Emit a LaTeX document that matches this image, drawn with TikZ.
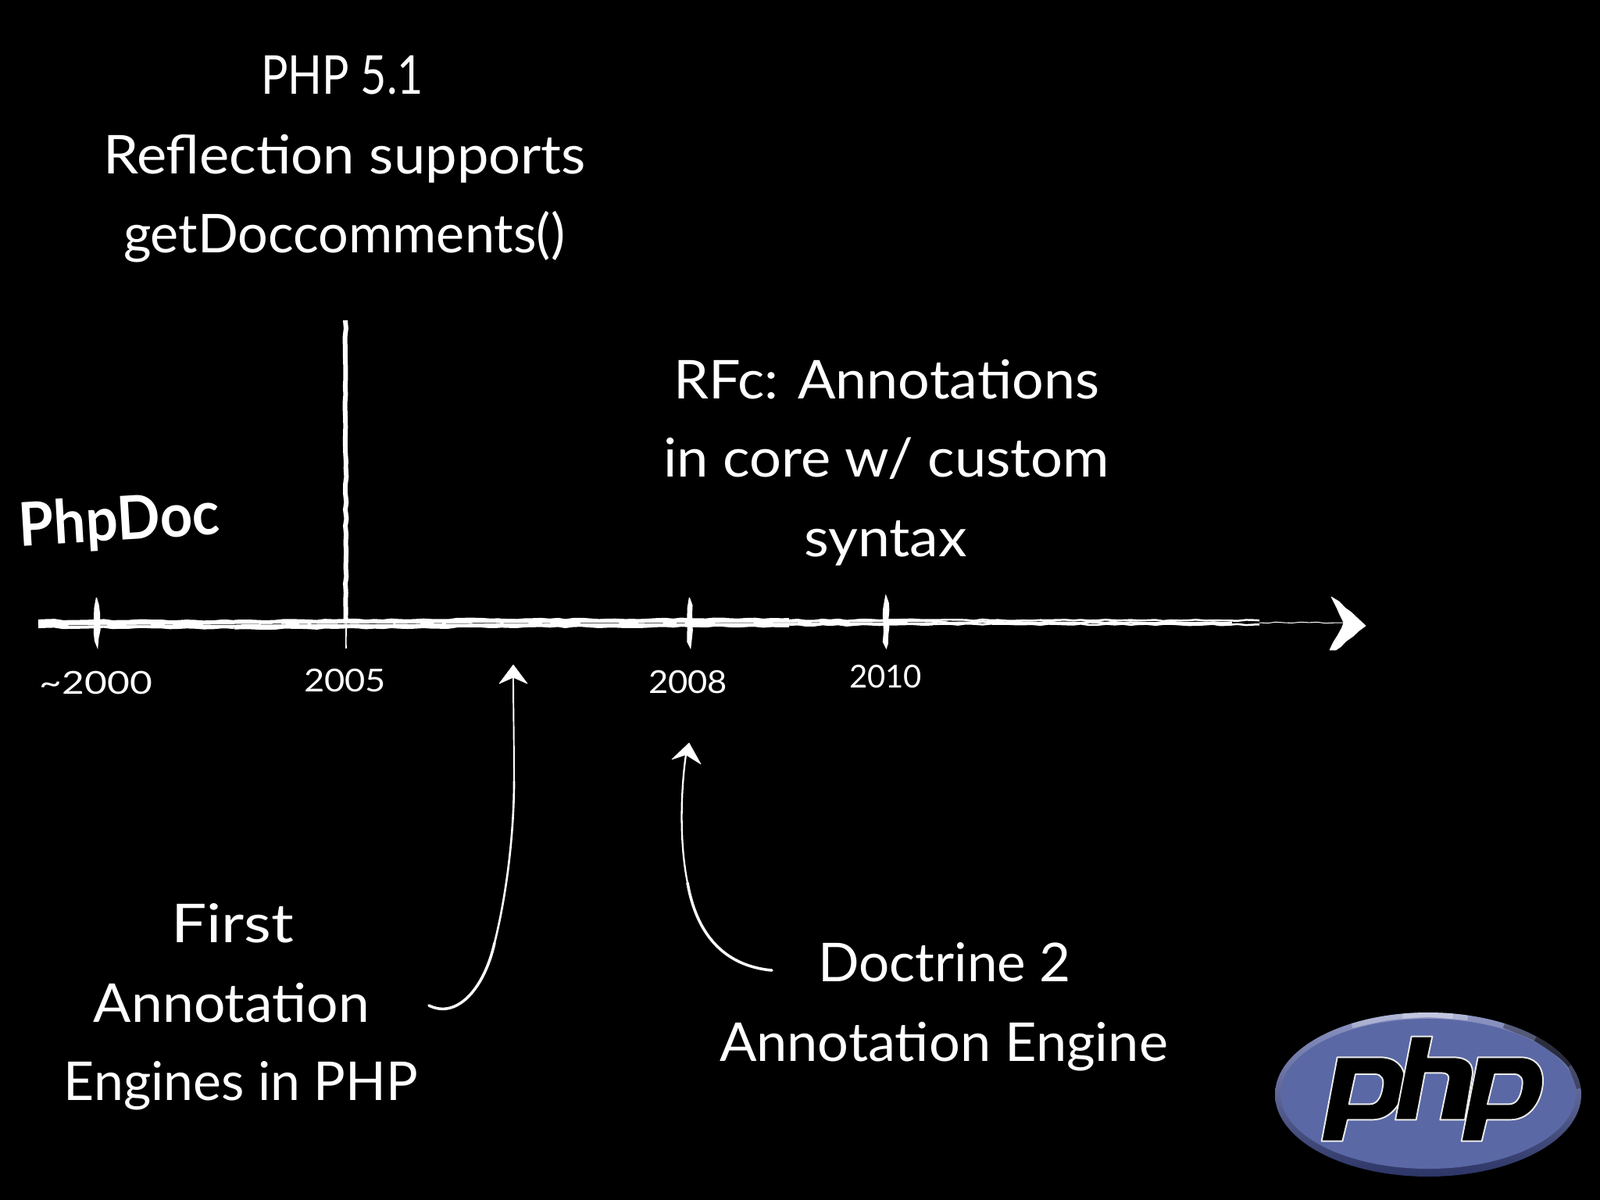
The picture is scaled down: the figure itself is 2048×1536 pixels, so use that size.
\documentclass[tikz,border=0pt]{standalone}
\usepackage{fontspec}
\usepackage{graphicx}
\setmainfont{Lato}
\usetikzlibrary{decorations.pathmorphing}
\newlength\pxu
\setlength\pxu{0.01cm}
\newcommand\fitw[2]{\resizebox{#1\pxu}{\height}{#2}}
\definecolor{logoblue}{HTML}{5A68A6}
\definecolor{logodark}{HTML}{2C3565}
\definecolor{logolight}{HTML}{8E96C4}
\tikzset{
  chalktext/.style={text=white,inner sep=0pt,outer sep=0pt,anchor=base west},
  bigtext/.style={chalktext,font=\fontsize{19.5pt}{20pt}\selectfont},
  hugetext/.style={chalktext,font=\fontsize{22pt}{24pt}\bfseries\selectfont},
  yeartext/.style={chalktext,font=\fontsize{11.5pt}{12pt}\selectfont},
  rough/.style={decorate,decoration={random steps,segment length=3pt,amplitude=.25pt}},
  strand/.style={draw=white,rough,line join=round},
  streak/.style={draw=black,line width=.12pt,dash pattern=on 9pt off 5pt on 3pt off 11pt on 14pt off 7pt},
  thincurve/.style={draw=white,line width=.55pt,line cap=round},
  fatcurve/.style={draw=white,line width=1pt,line cap=round},
  headfill/.style={fill=white,draw=white,line width=.2pt,line join=round},
  spindle/.style={fill=white,rough},
  logoletter/.style={fill=black,draw=white!92!black,line width=.55pt,even odd rule,line join=round},
}
\newcommand\ticklen[4]{%
  \coordinate (#1top) at (#2,#3);
  \coordinate (#1bot) at (#2,#4);
  \fill[spindle] (#1top) .. controls +(5,14) and +(5,-14) .. (#1bot)
     .. controls +(-5,-14) and +(-5,14) .. (#1top);
}
\begin{document}
\begin{tikzpicture}[x=0.01cm,y=-0.01cm]
\path[fill=black,use as bounding box] (0,0) rectangle (2048,1536);

% axis
\coordinate (axisL) at (49,798.5);
\coordinate (axisA) at (300,799.5);
\coordinate (axisB) at (640,797.5);
\coordinate (axisC) at (1010,797);
\coordinate (axisM) at (1194,796.5);
\coordinate (axisN) at (1612,797);
\coordinate (axisR) at (1720,797);
\path[strand,line width=3.2pt] (axisL) -- (axisA);
\path[strand,line width=3.5pt] (axisA) -- (axisB);
\path[strand,line width=3.3pt] (axisB) -- (axisC);
\path[strand,line width=2.4pt] (axisC) -- (axisM);
\path[strand,line width=.7pt] ([yshift=.8pt]axisM) -- ([yshift=.8pt]axisN);
\path[strand,line width=.9pt] (axisM) -- ([xshift=-10pt]axisN);
\path[strand,line width=.7pt] ([yshift=-.7pt]axisM) -- ([yshift=-.7pt]axisN);
\path[strand,line width=.3pt] (axisN) -- (axisR);
\path[streak] ([yshift=.2pt]axisA) -- (axisM);
\path[streak,dash phase=17pt] ([yshift=-.6pt]axisL) -- (axisB);

% vertical line and ticks
\coordinate (vlTop) at (442,410);
\coordinate (vlBot) at (443,830);
\path[strand,line width=1.7pt] (vlTop) -- ([yshift=9pt]vlBot);
\path[strand,line width=.5pt] ([yshift=9pt]vlBot) -- (vlBot);
\ticklen{tA}{124}{765}{831}
\ticklen{tB}{883}{765}{831}
\ticklen{tC}{1134}{761}{831}

% main arrow head
\coordinate (headTip) at (1748,801);
\coordinate (headUp) at (1704,764);
\coordinate (headDn) at (1702,832);
\coordinate (headIn) at (1720,797);
\path[headfill,rough] (headUp) -- (1714,770) -- (headTip) -- (1710,832) -- (headDn) -- (headIn) -- cycle;

% year labels
\node[yeartext] (y2000) at (51,888) {\fitw{144}{\textasciitilde 2000}};
\node[yeartext] (y2005) at (389,885) {\fitw{105}{2005}};
\node[yeartext] (y2008) at (830,887) {\fitw{101}{2008}};
\node[yeartext] (y2010) at (1087,880) {\fitw{93}{2010}};

% texts
\node[hugetext,rotate=3.4] (phpdoc) at (26,699) {\fitw{257}{PhpDoc}};
\node[bigtext] (t51) at (334,120) {\fitw{208}{PHP 5.1}};
\node[bigtext] (tRefl) at (132,222) {\fitw{618}{Reflection supports}};
\node[bigtext] (tGet) at (158,323) {\fitw{565}{getDoccomments()}};
\node[bigtext] (tRfc) at (862,510) {\fitw{545}{RFc: Annotations}};
\node[bigtext] (tCore) at (849,610) {\fitw{571}{in core w/ custom}};
\node[bigtext] (tSyn) at (1029,712) {\fitw{209}{syntax}};
\node[bigtext] (tFirst) at (219,1206) {\fitw{157}{First}};
\node[bigtext] (tAnn) at (120,1308) {\fitw{353}{Annotation}};
\node[bigtext] (tEng) at (82,1408) {\fitw{453}{Engines in PHP}};
\node[bigtext] (tDoc) at (1047,1256) {\fitw{324}{Doctrine 2}};
\node[bigtext] (tAE) at (921,1358) {\fitw{574}{Annotation Engine}};

% curved arrows
\coordinate (arrAfrom) at (549,1287);
\coordinate (arrAmid) at (633,1207);
\coordinate (arrAup) at (658,1000);
\coordinate (arrAto) at (657,867);
\draw[fatcurve] (arrAfrom) .. controls (585,1305) and (620,1265) .. (arrAmid);
\draw[fatcurve,line width=.75pt] (arrAmid) .. controls (652,1130) and (658,1050) .. (arrAup);
\draw[thincurve] (arrAup) .. controls (658,950) and (657,900) .. (arrAto);
\fill[headfill] (657,851) -- (675,875) -- (657,867) -- (639,875) -- cycle;

\coordinate (arrBfrom) at (988,1242);
\coordinate (arrBmid) at (880,1130);
\coordinate (arrBto) at (878,966);
\draw[fatcurve] (arrBfrom) .. controls (945,1238) and (895,1215) .. (arrBmid);
\draw[thincurve,line width=.65pt] (arrBmid) .. controls (868,1070) and (873,1000) .. (arrBto);
\fill[headfill] (882,951) -- (897,978) -- (878,966) -- (860,972) -- cycle;

% php logo
\shade[top color=logolight,bottom color=logodark]
  (1828,1401) ellipse [x radius=196,y radius=105];
\begin{scope}
  \clip (1828,1401) ellipse [x radius=196,y radius=105];
  \draw[black,line width=3.5pt,opacity=.35]
    plot[smooth] coordinates {(2024,1392) (2012,1362) (1998,1348) (1967,1327) (1926,1310)};
  \draw[black,line width=3.5pt,opacity=.45]
    plot[smooth] coordinates {(2012,1362) (1998,1348) (1967,1327)};
  \draw[white,line width=3.5pt,opacity=.3]
    plot[smooth] coordinates {(1879,1300) (1828,1296) (1775,1300) (1730,1310)};
  \draw[white,line width=3.5pt,opacity=.25]
    plot[smooth] coordinates {(1860,1298) (1828,1296) (1795,1298)};
\end{scope}
\fill[logoblue] (1828,1400) ellipse [x radius=189,y radius=96];
\begin{scope}[shift={(1550,1250)},scale=1/3]
  \draw[logoletter] (425,632) -- (505,632) -- (525,550) -- (620,550)
     .. controls (700,550) and (745,470) .. (745,400)
     .. controls (745,340) and (705,310) .. (650,310)
     -- (485,310) -- cycle
     (555,375) -- (630,375) .. controls (655,375) and (665,395) .. (660,420)
     .. controls (655,460) and (640,490) .. (610,490) -- (530,490) -- cycle;
  \draw[logoletter] (770,230) -- (850,230) -- (833,310) -- (930,310)
     .. controls (985,310) and (1012,335) .. (1003,385)
     -- (975,550) -- (880,550) -- (912,395)
     .. controls (916,378) and (905,370) .. (885,370)
     -- (822,370) -- (788,550) -- (708,550) -- cycle;
  \draw[logoletter] (962,632) -- (1040,632) -- (1060,550) -- (1150,550)
     .. controls (1230,550) and (1275,470) .. (1275,400)
     .. controls (1275,340) and (1240,310) .. (1190,310)
     -- (1025,310) -- cycle
     (1090,375) -- (1165,375) .. controls (1190,375) and (1200,395) .. (1195,420)
     .. controls (1190,460) and (1175,490) .. (1145,490) -- (1062,490) -- cycle;
\end{scope}
\end{tikzpicture}
\end{document}
